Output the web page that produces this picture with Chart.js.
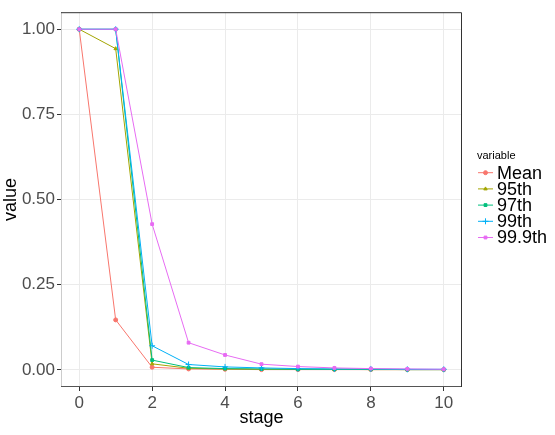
<!DOCTYPE html>
<html>
<head>
<meta charset="utf-8">
<script src="https://cdn.jsdelivr.net/npm/chart.js@4.4.0/dist/chart.umd.min.js"></script>
<style>
  html, body { margin: 0; padding: 0; background: #fff; }
  #c { display: block; }
</style>
</head>
<body>
<canvas id="c" width="555" height="435"></canvas>
<script>
// stages on the x axis
const stages = [0, 1, 2, 3, 4, 5, 6, 7, 8, 9, 10];

// one array per series
const mean   = [1.000, 0.147, 0.008, 0.003, 0.002, 0.001, 0.001, 0.001, 0.001, 0.001, 0.001];
const p95    = [1.000, 0.943, 0.018, 0.005, 0.003, 0.002, 0.002, 0.002, 0.001, 0.001, 0.001];
const p97    = [1.000, 1.000, 0.029, 0.007, 0.004, 0.003, 0.002, 0.002, 0.002, 0.001, 0.001];
const p99    = [1.000, 1.000, 0.071, 0.016, 0.009, 0.006, 0.004, 0.003, 0.003, 0.002, 0.002];
const p999   = [1.000, 1.000, 0.428, 0.080, 0.044, 0.017, 0.010, 0.006, 0.004, 0.003, 0.002];

const seriesNames = ["Mean", "95th", "97th", "99th", "99.9th"];
const xTicks = [0, 2, 4, 6, 8, 10];
const yTicks = [0, 0.25, 0.5, 0.75, 1];
const yTickLabels = ["0.00", "0.25", "0.50", "0.75", "1.00"];

const colors = ["#F8766D", "#A3A500", "#00BF7D", "#00B0F6", "#E76BF3"];
const shapes = ["circle", "triangle", "rect", "cross", "rect"];
const FONT = "'Liberation Sans', Arial, sans-serif";

function makeSet(i, vals) {
  return {
    label: seriesNames[i],
    data: stages.map((s, k) => ({ x: s, y: vals[k] })),
    borderColor: colors[i],
    backgroundColor: colors[i],
    borderWidth: 1,
    pointStyle: shapes[i],
    pointRadius: i === 3 ? 3 : 2,
    pointBorderWidth: 1,
    order: 4 - i,   // later series drawn on top, like ggplot
    tension: 0
  };
}

// ggplot-ish panel frame + the legend on the right
const decor = {
  id: "decor",
  afterDraw(chart) {
    const { ctx, chartArea: a } = chart;
    ctx.save();
    ctx.lineWidth = 1;
    ctx.strokeStyle = "#cccccc";
    ctx.beginPath(); ctx.moveTo(a.left + 0.5, a.top); ctx.lineTo(a.left + 0.5, a.bottom); ctx.stroke();
    ctx.strokeStyle = "#555555";
    ctx.beginPath(); ctx.moveTo(a.left, a.bottom - 0.5); ctx.lineTo(a.right, a.bottom - 0.5); ctx.stroke();
    ctx.strokeStyle = "#333333";
    ctx.beginPath(); ctx.moveTo(a.left, a.top + 0.5); ctx.lineTo(a.right - 0.5, a.top + 0.5); ctx.lineTo(a.right - 0.5, a.bottom); ctx.stroke();

    // legend
    ctx.fillStyle = "#000";
    ctx.textBaseline = "middle";
    ctx.font = "11px " + FONT;
    ctx.fillText("variable", 477, 156);
    chart.data.datasets.forEach((ds, i) => {
      const y = 172.7 + i * 16.2;
      ctx.strokeStyle = ds.borderColor;
      ctx.fillStyle = ds.backgroundColor;
      ctx.lineWidth = 1;
      ctx.beginPath(); ctx.moveTo(478, y); ctx.lineTo(493, y); ctx.stroke();
      Chart.helpers.drawPoint(ctx, {
        pointStyle: ds.pointStyle, radius: ds.pointRadius, rotation: 0,
        borderWidth: ds.pointBorderWidth
      }, 485.5, y);
      ctx.fillStyle = "#000";
      ctx.font = "18px " + FONT;
      ctx.fillText(ds.label, 497, y + 1);
    });
    ctx.restore();
  }
};

new Chart(document.getElementById("c"), {
  type: "line",
  data: {
    datasets: [
      makeSet(0, mean), makeSet(1, p95), makeSet(2, p97), makeSet(3, p99), makeSet(4, p999)
    ]
  },
  options: {
    responsive: false,
    animation: false,
    devicePixelRatio: 1,
    layout: { padding: { left: 0, top: 11, right: 93, bottom: 0 } },
    plugins: { legend: { display: false }, tooltip: { enabled: false } },
    scales: {
      x: {
        type: "linear",
        min: -0.5, max: 10.5,
        afterBuildTicks: s => { s.ticks = xTicks.map(v => ({ value: v })); },
        afterFit: s => { s.height = 48; },
        grid: { color: "#ebebeb", lineWidth: 1, tickLength: 4, tickColor: "#333333" },
        border: { display: false },
        ticks: { color: "#4d4d4d", font: { family: FONT, size: 17 }, padding: 2, maxRotation: 0 },
        title: { display: true, text: "stage", color: "#000", font: { family: FONT, size: 18 }, padding: { top: 0, bottom: 6 } }
      },
      y: {
        min: -0.05, max: 1.05,
        afterBuildTicks: s => { s.ticks = yTicks.map(v => ({ value: v })); },
        afterFit: s => { s.width = 61; },
        grid: { color: "#ebebeb", lineWidth: 1, tickLength: 4, tickColor: "#333333" },
        border: { display: false },
        ticks: {
          color: "#4d4d4d", font: { family: FONT, size: 17 }, padding: 2,
          callback: (v) => yTickLabels[yTicks.indexOf(v)]
        },
        title: { display: true, text: "value", color: "#000", font: { family: FONT, size: 18 }, padding: { top: 0, bottom: 0 } }
      }
    }
  },
  plugins: [decor]
});
</script>
</body>
</html>
